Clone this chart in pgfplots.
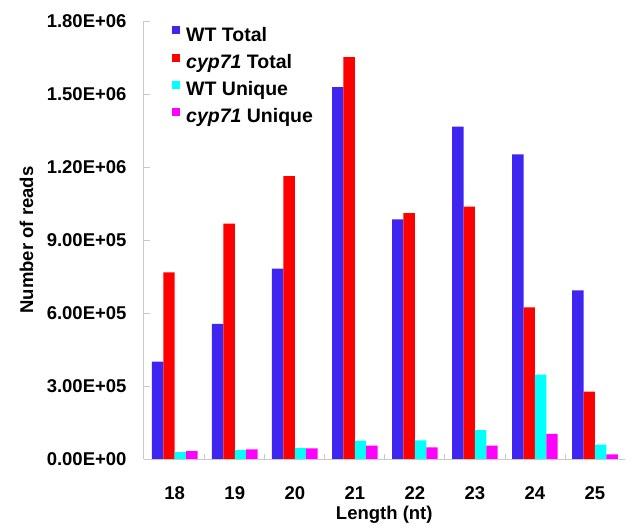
\documentclass[border=0pt]{standalone}
\usepackage{fontspec}
\setmainfont{Liberation Sans}
\usepackage{pgfplots}
\pgfplotsset{compat=1.18}
\definecolor{wtblue}{RGB}{62,38,240}
\definecolor{cred}{RGB}{255,0,0}
\definecolor{wtcyan}{RGB}{0,255,255}
\definecolor{cmag}{RGB}{255,0,255}
\definecolor{axgray}{RGB}{200,200,200}
\begin{document}
\begin{tikzpicture}
\path (0pt,0pt) rectangle (642pt,526pt);
\begin{axis}[
  at={(143.5pt,67pt)}, anchor=south west,
  scale only axis, width=481.5pt, height=438pt,
  xmin=-0.52, xmax=7.5, ymin=0, ymax=1.8e6,
  ybar=0pt, bar width=11.4pt,
  axis lines=left,
  axis line style={-, draw=axgray, line width=0.8pt},
  tick align=inside,
  xtick={0,1,2,3,4,5,6,7},
  xticklabels={18,19,20,21,22,23,24,25},
  major x tick style={draw=none},
  minor xtick={0.5,1.5,2.5,3.5,4.5,5.5,6.5},
  minor tick length=5pt,
  minor x tick style={draw=axgray, line width=0.8pt},
  ytick={0,300000,600000,900000,1200000,1500000,1800000},
  yticklabels={0.00E+00,3.00E+05,6.00E+05,9.00E+05,1.20E+06,1.50E+06,1.80E+06},
  major tick length=6pt,
  major y tick style={draw=axgray, line width=0.8pt},
  scaled y ticks=false,
  x tick label style={font=\fontsize{18.5}{18.5}\selectfont\bfseries, inner sep=0pt, anchor=north, yshift=-27pt},
  y tick label style={font=\fontsize{18.5}{18.5}\selectfont\bfseries, inner sep=0pt, anchor=east, xshift=-16.8pt},
  xlabel={Length (nt)},
  xlabel style={font=\fontsize{18.5}{18.5}\selectfont\bfseries, inner sep=0pt, at={(axis description cs:0.5,0)}, anchor=north, yshift=-47pt},
  ylabel={Number of reads},
  ylabel style={font=\fontsize{18.5}{18.5}\selectfont\bfseries, inner sep=0pt, at={(axis description cs:0,0.5)}, anchor=south, yshift=110pt},
  legend style={at={(rel axis cs:0,1)}, anchor=north west, xshift=28.5pt, yshift=-5pt,
    draw=none, fill=none, inner sep=0pt, row sep=11pt, column sep=6pt,
    font=\fontsize{19.5}{19.5}\selectfont\bfseries, nodes={inner sep=0pt}},
  legend cell align=left,
  legend image code/.code={\fill[#1] (0pt,0.5pt) rectangle (8pt,8.5pt);},
]
\addplot[fill=wtblue, draw=none] coordinates {(0,400000) (1,555000) (2,782000) (3,1528000) (4,985000) (5,1366000) (6,1252000) (7,693000)};
\addplot[fill=cred, draw=none] coordinates {(0,767000) (1,967000) (2,1162000) (3,1652000) (4,1010000) (5,1037000) (6,623000) (7,277000)};
\addplot[fill=wtcyan, draw=none] coordinates {(0,28000) (1,36000) (2,45000) (3,75000) (4,77000) (5,119000) (6,347000) (7,59000)};
\addplot[fill=cmag, draw=none] coordinates {(0,32000) (1,40000) (2,44000) (3,55000) (4,48000) (5,55000) (6,103000) (7,19000)};
\legend{WT Total, \textit{cyp71} Total, WT Unique, \textit{cyp71} Unique}
\end{axis}
\end{tikzpicture}
\end{document}
